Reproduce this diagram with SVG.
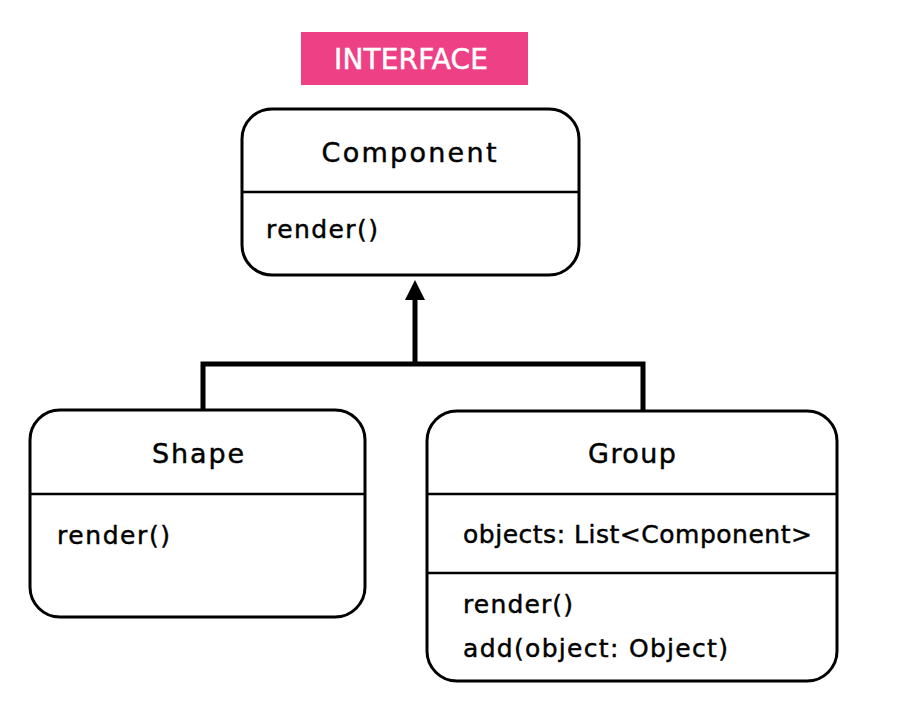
<svg xmlns="http://www.w3.org/2000/svg" width="899" height="725" viewBox="0 0 899 725">
<style>
.box{fill:#fff;stroke:#000;stroke-width:3}
.div{stroke:#000;stroke-width:2.5}
.t{font-family:"DejaVu Sans","Liberation Sans",sans-serif;font-size:25px;fill:#000;stroke:#000;stroke-width:0.45}
.title{text-anchor:middle;font-size:27px}
.conn{fill:none;stroke:#000;stroke-width:5}
</style>
<rect width="899" height="725" fill="#fff"/>
<g id="interface-label">
<rect x="301" y="32" width="227" height="53" fill="#EE4085"/>
<text x="411" y="69" text-anchor="middle" font-family="'DejaVu Sans','Liberation Sans',sans-serif" font-size="28" fill="#fff" stroke="#fff" stroke-width="0.5" textLength="154">INTERFACE</text>
</g>
<g id="connectors">
<polyline class="conn" points="203,410 203,364 643,364 643,410"/>
<line class="conn" x1="415" y1="364" x2="415" y2="296"/>
<polygon points="415,280 425,300 405,300" fill="#000"/>
</g>
<g id="component">
<rect class="box" x="242" y="109" width="337" height="166" rx="30"/>
<line class="div" x1="242" y1="192" x2="579" y2="192"/>
<text class="t title" x="409" y="162" textLength="175">Component</text>
<text class="t" x="266" y="238" textLength="112">render()</text>
</g>
<g id="shape">
<rect class="box" x="30" y="410" width="335" height="207" rx="30"/>
<line class="div" x1="30" y1="494" x2="365" y2="494"/>
<text class="t title" x="198" y="463" textLength="92">Shape</text>
<text class="t" x="57" y="544" textLength="113">render()</text>
</g>
<g id="group">
<rect class="box" x="427" y="411" width="410" height="270" rx="30"/>
<line class="div" x1="427" y1="494" x2="837" y2="494"/>
<line class="div" x1="427" y1="573" x2="837" y2="573"/>
<text class="t title" x="632" y="463" textLength="88">Group</text>
<text class="t" x="463" y="543" textLength="349">objects: List&lt;Component&gt;</text>
<text class="t" x="463" y="613" textLength="110">render()</text>
<text class="t" x="463" y="657" textLength="265">add(object: Object)</text>
</g>
</svg>
